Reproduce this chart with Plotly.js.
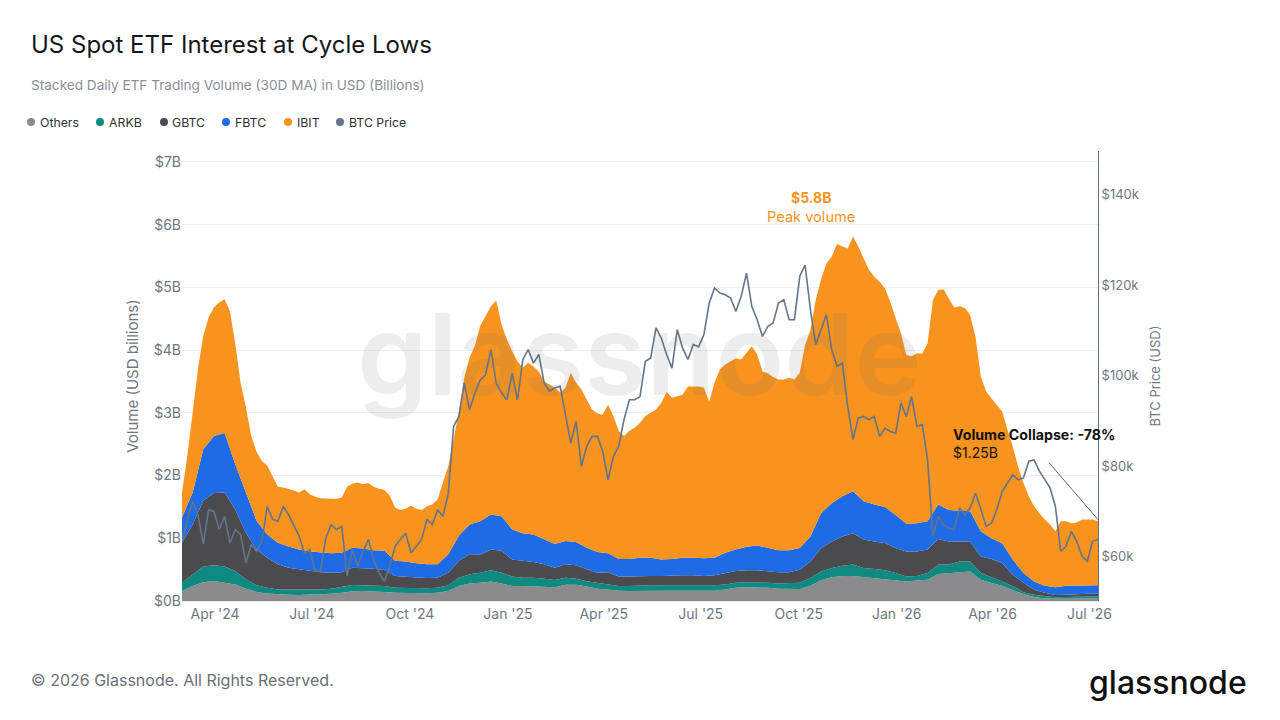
<!DOCTYPE html>
<html><head><meta charset="utf-8">
<script src="https://cdn.plot.ly/plotly-3.0.1.min.js"></script>
<style>html,body{margin:0;padding:0;background:#fff}#c{width:1280px;height:720px}</style>
</head><body><div id="c"></div>
<script>
const stackDates=["2024-03-01","2024-03-11","2024-03-21","2024-03-31","2024-04-10","2024-04-20","2024-04-30","2024-05-10","2024-05-20","2024-05-30","2024-06-09","2024-06-19","2024-06-29","2024-07-09","2024-07-19","2024-07-29","2024-08-08","2024-08-18","2024-08-28","2024-09-07","2024-09-17","2024-09-27","2024-10-07","2024-10-17","2024-10-27","2024-11-06","2024-11-16","2024-11-26","2024-12-06","2024-12-16","2024-12-26","2025-01-05","2025-01-15","2025-01-25","2025-02-04","2025-02-14","2025-02-24","2025-03-06","2025-03-16","2025-03-26","2025-04-05","2025-04-15","2025-04-25","2025-05-05","2025-05-15","2025-05-25","2025-06-04","2025-06-14","2025-06-24","2025-07-04","2025-07-14","2025-07-24","2025-08-03","2025-08-13","2025-08-23","2025-09-02","2025-09-12","2025-09-22","2025-10-02","2025-10-12","2025-10-22","2025-11-01","2025-11-11","2025-11-21","2025-12-01","2025-12-11","2025-12-21","2025-12-31","2026-01-10","2026-01-20","2026-01-30","2026-02-09","2026-02-19","2026-03-01","2026-03-11","2026-03-21","2026-03-31","2026-04-10","2026-04-20","2026-04-30","2026-05-10","2026-05-20","2026-05-30","2026-06-09","2026-06-19","2026-06-29","2026-07-09"];
// Upper edge of each stacked band, USD billions
const othersTop=[.16,.24,.30,.32,.29,.265,.195,.145,.12,.105,.10,.095,.10,.105,.115,.13,.155,.16,.155,.145,.13,.125,.125,.125,.13,.16,.24,.28,.29,.31,.28,.24,.24,.23,.23,.22,.26,.26,.23,.195,.185,.165,.16,.165,.165,.165,.165,.165,.165,.16,.165,.185,.21,.22,.22,.21,.195,.195,.19,.245,.33,.38,.40,.40,.38,.365,.35,.33,.31,.325,.34,.43,.445,.455,.47,.34,.285,.245,.17,.11,.065,.04,.035,.035,.04,.04,.04];
const arkbTop=[.29,.425,.55,.57,.55,.48,.345,.25,.21,.185,.185,.175,.175,.185,.195,.23,.255,.25,.25,.24,.21,.205,.205,.205,.21,.25,.37,.425,.45,.49,.45,.39,.37,.37,.355,.335,.37,.355,.315,.29,.265,.24,.24,.25,.25,.25,.25,.25,.24,.24,.25,.265,.29,.30,.30,.29,.28,.29,.29,.37,.47,.525,.56,.58,.525,.51,.49,.445,.39,.40,.445,.58,.58,.63,.63,.445,.38,.31,.235,.14,.10,.075,.06,.065,.07,.075,.075];
const gbtcTop=[.93,1.22,1.60,1.72,1.73,1.46,1.09,.82,.69,.585,.53,.505,.48,.46,.45,.46,.53,.525,.515,.495,.40,.385,.37,.365,.37,.45,.64,.745,.74,.82,.80,.66,.64,.62,.585,.53,.585,.57,.505,.45,.46,.39,.39,.40,.40,.40,.41,.41,.41,.40,.41,.45,.48,.49,.49,.475,.46,.46,.50,.63,.845,.95,1.03,1.08,.98,.95,.925,.845,.79,.79,.82,.99,.95,.95,.95,.71,.67,.605,.42,.29,.18,.13,.095,.10,.11,.115,.115];
const fbtcTop=[1.33,1.73,2.42,2.63,2.68,2.18,1.73,1.28,1.06,.93,.87,.82,.79,.77,.76,.77,.85,.835,.81,.80,.64,.63,.60,.585,.585,.745,1.04,1.22,1.27,1.38,1.35,1.14,1.08,1.06,.98,.91,.955,.94,.85,.78,.76,.67,.67,.69,.69,.66,.67,.69,.69,.68,.69,.77,.82,.865,.885,.85,.81,.81,.845,1.03,1.40,1.56,1.67,1.75,1.59,1.54,1.50,1.37,1.23,1.24,1.27,1.54,1.45,1.44,1.43,1.11,1.00,.92,.66,.445,.31,.245,.22,.245,.25,.25,.25];
const fineDates=["2024-03-01","2024-03-06","2024-03-11","2024-03-16","2024-03-21","2024-03-26","2024-03-31","2024-04-05","2024-04-10","2024-04-15","2024-04-20","2024-04-25","2024-04-30","2024-05-05","2024-05-10","2024-05-15","2024-05-20","2024-05-25","2024-05-30","2024-06-04","2024-06-09","2024-06-14","2024-06-19","2024-06-24","2024-06-29","2024-07-04","2024-07-09","2024-07-14","2024-07-19","2024-07-24","2024-07-29","2024-08-03","2024-08-08","2024-08-13","2024-08-18","2024-08-23","2024-08-28","2024-09-02","2024-09-07","2024-09-12","2024-09-17","2024-09-22","2024-09-27","2024-10-02","2024-10-07","2024-10-12","2024-10-17","2024-10-22","2024-10-27","2024-11-01","2024-11-06","2024-11-11","2024-11-16","2024-11-21","2024-11-26","2024-12-01","2024-12-06","2024-12-11","2024-12-16","2024-12-21","2024-12-26","2024-12-31","2025-01-05","2025-01-10","2025-01-15","2025-01-20","2025-01-25","2025-01-30","2025-02-04","2025-02-09","2025-02-14","2025-02-19","2025-02-24","2025-03-01","2025-03-06","2025-03-11","2025-03-16","2025-03-21","2025-03-26","2025-03-31","2025-04-05","2025-04-10","2025-04-15","2025-04-20","2025-04-25","2025-04-30","2025-05-05","2025-05-10","2025-05-15","2025-05-20","2025-05-25","2025-05-30","2025-06-04","2025-06-09","2025-06-14","2025-06-19","2025-06-24","2025-06-29","2025-07-04","2025-07-09","2025-07-14","2025-07-19","2025-07-24","2025-07-29","2025-08-03","2025-08-08","2025-08-13","2025-08-18","2025-08-23","2025-08-28","2025-09-02","2025-09-07","2025-09-12","2025-09-17","2025-09-22","2025-09-27","2025-10-02","2025-10-07","2025-10-12","2025-10-17","2025-10-22","2025-10-27","2025-11-01","2025-11-06","2025-11-11","2025-11-16","2025-11-21","2025-11-26","2025-12-01","2025-12-06","2025-12-11","2025-12-16","2025-12-21","2025-12-26","2025-12-31","2026-01-05","2026-01-10","2026-01-15","2026-01-20","2026-01-25","2026-01-30","2026-02-04","2026-02-09","2026-02-14","2026-02-19","2026-02-24","2026-03-01","2026-03-06","2026-03-11","2026-03-16","2026-03-21","2026-03-26","2026-03-31","2026-04-05","2026-04-10","2026-04-15","2026-04-20","2026-04-25","2026-04-30","2026-05-05","2026-05-10","2026-05-15","2026-05-20","2026-05-25","2026-05-30","2026-06-04","2026-06-09","2026-06-14","2026-06-19","2026-06-24","2026-06-29","2026-07-04","2026-07-09"];
const ibitTop=[1.73,2.31,3.0,3.70,4.23,4.52,4.68,4.76,4.81,4.62,4.10,3.48,3.09,2.63,2.38,2.23,2.16,1.99,1.82,1.81,1.79,1.76,1.73,1.78,1.70,1.66,1.64,1.63,1.63,1.63,1.65,1.82,1.87,1.89,1.86,1.88,1.82,1.79,1.77,1.68,1.49,1.45,1.47,1.52,1.47,1.45,1.51,1.54,1.62,1.89,2.15,2.58,3.03,3.56,3.88,4.07,4.39,4.54,4.70,4.79,4.41,4.17,3.98,3.82,3.72,3.80,3.74,3.66,3.50,3.45,3.40,3.32,3.40,3.64,3.48,3.37,3.21,3.05,2.99,2.97,3.13,2.95,2.71,2.63,2.71,2.76,2.84,2.95,3.0,3.05,3.16,3.33,3.24,3.26,3.29,3.42,3.42,3.42,3.40,3.18,3.48,3.69,3.77,3.82,3.87,3.85,3.95,4.06,3.93,3.66,3.63,3.57,3.53,3.53,3.56,3.53,3.64,4.08,4.32,4.80,5.13,5.38,5.49,5.69,5.65,5.62,5.81,5.65,5.46,5.28,5.17,5.09,4.98,4.77,4.51,4.27,3.92,3.90,3.95,3.94,4.11,4.80,4.96,4.97,4.82,4.68,4.70,4.67,4.56,4.21,3.58,3.34,3.23,3.13,3.02,2.73,2.46,2.14,1.88,1.67,1.51,1.40,1.30,1.22,1.11,1.27,1.27,1.24,1.25,1.30,1.30,1.30,1.27];
const priceK=[63,68.2,72.2,69.3,62.8,70.4,70,66,68.9,63,66,64.9,58.6,62.7,61.2,63.4,71.1,68.3,67.8,71.1,69.3,66.7,64.5,60.7,61.5,56.8,56.8,64.1,67.1,66,66.7,55.7,61.5,57.9,61.2,63.8,59.3,56.4,54.5,57.9,62.3,63.8,65.2,60.8,62.3,63.8,68.3,67.1,70.4,68.9,74,88.8,91,98.4,92.5,96.2,99.1,100.2,105.8,98.4,96.2,94.7,100.6,94.7,103.6,105.8,102.8,104.7,98.4,96.6,97.3,97.7,91.4,85.1,89.9,80,84.4,86.6,86.6,83.3,77,82.2,84.4,90.3,94.7,94.7,95.4,103.2,103.9,110.6,108.3,104.7,101.7,110.2,106.1,103.6,106.9,106.4,109.1,116.1,119.4,118.3,117.9,117.2,114.2,117.6,122.7,115.3,112.4,108.7,110.9,111.7,116.1,116.8,112.4,112.4,122,124.5,114.6,106.9,110.2,113.5,105.8,102.1,102.8,93.2,85.9,90.7,91,90.3,91,86.6,88.4,87.7,87.3,94,91,95.4,88.8,89.2,81.4,64.5,68.9,67.1,66.3,66,70.8,69.3,70.8,74,70.5,66.7,67.4,70.4,74.4,76.3,78.1,77,77.4,81.1,81.4,78.9,77,75.2,71.1,61.2,62.3,65.6,63.4,60.1,59,63.4,63.8];
const xTickDates=["2024-04-01","2024-07-01","2024-10-01","2025-01-01","2025-04-01","2025-07-01","2025-10-01","2026-01-01","2026-04-01","2026-07-01"];
const xTickLabels=["Apr '24","Jul '24","Oct '24","Jan '25","Apr '25","Jul '25","Oct '25","Jan '26","Apr '26","Jul '26"];
const volTicks=[0,1,2,3,4,5,6,7];
const volLabels=["$0B","$1B","$2B","$3B","$4B","$5B","$6B","$7B"];
const priceTicks=[60,80,100,120,140];
const priceLabels=["$60k","$80k","$100k","$120k","$140k"];
const legendNames=["Others","ARKB","GBTC","FBTC","IBIT","BTC Price"];
const colors={Others:"#8b8b8d",ARKB:"#0e8a80",GBTC:"#4b4b4f",FBTC:"#1f6ae5",IBIT:"#f7931e","BTC Price":"#64748b"};

const L=182,R=1098,T=151,B=601.5;
const fx=p=>(p-L)/(R-L), fy=p=>(B-p)/(B-T);
const band=(name,x,y,fill)=>({type:"scatter",mode:"lines",name,x,y,fill,fillcolor:colors[name],line:{color:colors[name],width:0},hoverinfo:"x+y"});
const traces=[
 band("Others",stackDates,othersTop,"tozeroy"),band("ARKB",stackDates,arkbTop,"tonexty"),band("GBTC",stackDates,gbtcTop,"tonexty"),
 band("FBTC",stackDates,fbtcTop,"tonexty"),band("IBIT",fineDates,ibitTop,"tonexty"),
 {type:"scatter",mode:"lines",name:"BTC Price",x:fineDates,y:priceK,yaxis:"y2",line:{color:"#64748b",width:1.6}}
];
const F="Inter, sans-serif";
const txt=(px,py,text,size,color,anchor="left",extra={})=>Object.assign({xref:"paper",yref:"paper",x:fx(anchor==="left"?px-2:px),y:fy(py),text,showarrow:false,xanchor:anchor,yanchor:"middle",font:{family:F,size,color}},extra);
const legendDotX=[31,100,164,226,288,340], legendTextX=[40,109,172,235,297,349];
const logo=txt(1168,683,"glassnode",32,"#111111","center");logo.font.weight=500;
const mark=txt(639,354,"glassnode",113,"rgba(110,110,115,0.12)","center");mark.font.weight=600;
const annotations=[
 txt(31,44,"US Spot ETF Interest at Cycle Lows",24,"#15171a"),
 txt(31,85,"Stacked Daily ETF Trading Volume (30D MA) in USD (Billions)",13.6,"#8a8f98"),
 txt(811,198,"<b>$5.8B</b>",14,"#f7931e","center"),
 txt(811,217,"Peak volume",14.6,"#f7931e","center"),
 txt(953,435,"<b>Volume Collapse: -78%</b>",14.2,"#111111"),
 txt(953,453,"$1.25B",14,"#111111"),
 txt(31,681,"© 2026 Glassnode. All Rights Reserved.",16,"#6b6f76"),
 logo,mark,
 ...legendNames.map((n,i)=>txt(legendTextX[i],122,n,12.3,"#2b2f36"))
];
const shapes=[
 ...legendNames.map((n,i)=>({type:"circle",xref:"paper",yref:"paper",x0:fx(legendDotX[i]-4),x1:fx(legendDotX[i]+4),y0:fy(122+4),y1:fy(122-4),fillcolor:colors[n],line:{width:0}})),
 {type:"line",xref:"paper",yref:"paper",x0:fx(1049),y0:fy(463),x1:fx(1098),y1:fy(520),line:{color:"#5b6470",width:1}}
];
const tickFont={family:F,size:14,color:"#6f7682"};
const rightFont={family:F,size:13,color:"#6f7682"};
const layout={
 width:1280,height:720,margin:{l:L,r:1280-R,t:T,b:720-B,pad:0},
 paper_bgcolor:"#fff",plot_bgcolor:"#fff",showlegend:false,font:{family:F},
 xaxis:{type:"date",range:["2024-03-01","2026-07-09"],tickmode:"array",tickvals:xTickDates,ticktext:xTickLabels,tickfont:tickFont,showgrid:false,zeroline:false,showline:true,linecolor:"#e5e7eb",ticks:""},
 yaxis:{range:[0,7.174],tickmode:"array",tickvals:volTicks,ticktext:volLabels,tickfont:tickFont,gridcolor:"#eeeff1",zeroline:false,showline:false,ticks:"",title:{text:"Volume (USD billions)",font:{family:F,size:15,color:"#6f7682"},standoff:11}},
 yaxis2:{overlaying:"y",side:"right",range:[50.2,149.7],tickmode:"array",tickvals:priceTicks,ticktext:priceLabels,tickfont:rightFont,showgrid:false,zeroline:false,showline:true,linecolor:"#5f6f7f",linewidth:1,ticks:"",title:{text:"BTC Price (USD)",font:{family:F,size:13,color:"#6f7682"},standoff:12}},
 annotations,shapes
};
Plotly.newPlot("c",traces,layout,{displayModeBar:false,staticPlot:true});
</script></body></html>
